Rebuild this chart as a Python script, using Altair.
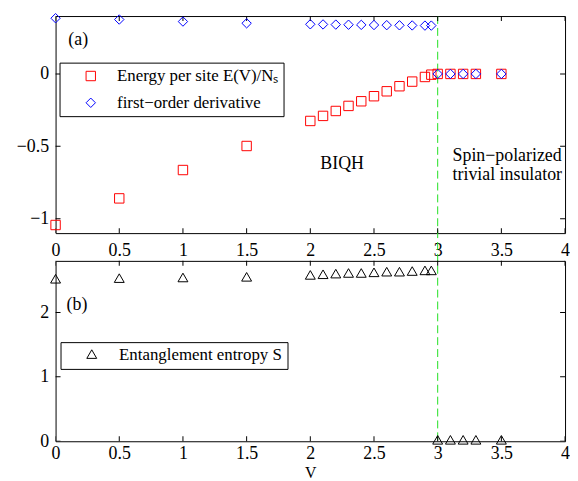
import altair as alt
import pandas as pd

# ---------------- data ----------------
V = [0, 0.5, 1, 1.5, 2.0, 2.1, 2.2, 2.3, 2.4, 2.5, 2.6, 2.7, 2.8, 2.9, 2.95,
     3.0, 3.1, 3.2, 3.3, 3.5]
energy = [-1.044, -0.86, -0.664, -0.498, -0.325, -0.29, -0.256, -0.221, -0.189,
          -0.154, -0.12, -0.085, -0.053, -0.021, -0.005, 0, 0, 0, 0, 0]
deriv = [0.385, 0.376, 0.362, 0.35, 0.343, 0.342, 0.341, 0.34, 0.339, 0.338,
         0.337, 0.336, 0.335, 0.334, 0.334, 0, 0, 0, 0, 0]
entropy = [2.50, 2.51, 2.52, 2.53, 2.56, 2.57, 2.58, 2.59, 2.59, 2.60, 2.61,
           2.61, 2.62, 2.63, 2.63, 0, 0, 0, 0, 0]

x_ticks = [0, 0.5, 1, 1.5, 2, 2.5, 3, 3.5, 4]
ya_ticks = [-1, -0.5, 0]
yb_ticks = [0, 1, 2]
x_domain = [0, 4]
ya_domain = [-1.1, 0.4]
yb_domain = [0, 2.8]
transition_V = [3.0]

E_LABEL = "Energy per site E(V)/N\u209b\u00a0"
D_LABEL = "first\u2212order derivative"
S_LABEL = "Entanglement entropy S\u00a0"

ann_a_x = [0.1]
ann_a_y = [0.235]
ann_a_t = ["(a)"]
ann_c_x = [2.25]
ann_c_y = [-0.622]
ann_c_t = ["BIQH"]
ann_r_x = [3.117, 3.117]
ann_r_y = [-0.567, -0.698]
ann_r_t = ["Spin\u2212polarized", "trivial insulator"]
ann_b_x = [0.086]
ann_b_y = [2.11]
ann_b_t = ["(b)"]

FONT = "Liberation Serif"
W, HA, HB, GAP = 514, 219, 182, 28

xs = alt.Scale(domain=x_domain, nice=False, zero=False)
ysa = alt.Scale(domain=ya_domain, nice=False, zero=False)
ysb = alt.Scale(domain=yb_domain, nice=False, zero=False)

ax_xa = alt.Axis(values=x_ticks, format="~g", title=None, labelPadding=9)
ax_ya = alt.Axis(values=ya_ticks, format="~g", title=None, labelPadding=7)
ax_xb = alt.Axis(values=x_ticks, format="~g", title="V", labelPadding=3,
                 titleY=24, titleFontSize=16)
ax_yb = alt.Axis(values=yb_ticks, format="~g", title=None, labelPadding=7)


def inward_ticks(xt, yt, xdom, ydom, xscale, yscale, xax, yax):
    dx = pd.DataFrame({"t": xt})
    dy = pd.DataFrame({"t": yt})
    layers = []
    for edge in ydom:
        layers.append(
            alt.Chart(dx).mark_tick(orient="vertical", size=10, thickness=1,
                                    color="black", clip=True, opacity=1)
            .encode(x=alt.X("t:Q", scale=xscale, axis=xax),
                    y=alt.YDatum(edge, type="quantitative", scale=yscale, axis=yax)))
    for edge in xdom:
        layers.append(
            alt.Chart(dy).mark_tick(orient="horizontal", size=10, thickness=1,
                                    color="black", clip=True, opacity=1)
            .encode(y=alt.Y("t:Q", scale=yscale, axis=yax),
                    x=alt.XDatum(edge, type="quantitative", scale=xscale, axis=xax)))
    return layers


def text_layer(xv, yv, tv, yscale, xax, yax, align="left"):
    d = pd.DataFrame({"x": xv, "y": yv, "t": tv})
    return alt.Chart(d).mark_text(font=FONT, fontSize=18, color="black",
                                  align=align, baseline="middle").encode(
        x=alt.X("x:Q", scale=xs, axis=xax),
        y=alt.Y("y:Q", scale=yscale, axis=yax),
        text="t:N")


# ---------------- panel (a) ----------------
df_a = pd.DataFrame({
    "V": V + V,
    "val": energy + deriv,
    "series": [E_LABEL] * len(V) + [D_LABEL] * len(V),
})

legend_a = alt.Legend(title=None, orient="none", legendX=4, legendY=47,
                      padding=5, rowPadding=9, strokeColor="black", fillColor="white",
                      cornerRadius=0, labelFont=FONT, labelFontSize=17,
                      labelColor="black", symbolSize=90, symbolStrokeWidth=1,
                      symbolOffset=18, labelOffset=18, labelLimit=400)

rule = alt.Chart(pd.DataFrame({"V": transition_V})).mark_rule(
    color="#22e022", strokeDash=[8, 4], strokeWidth=1).encode(
    x=alt.X("V:Q", scale=xs, axis=ax_xa),
    y=alt.value(0), y2=alt.value(HA + GAP + HB))

pts_a = alt.Chart(df_a).mark_point(filled=False, size=90, strokeWidth=1, opacity=1).encode(
    x=alt.X("V:Q", scale=xs, axis=ax_xa),
    y=alt.Y("val:Q", scale=ysa, axis=ax_ya),
    color=alt.Color("series:N", scale=alt.Scale(domain=[E_LABEL, D_LABEL],
                                                range=["#ff0000", "#0000ff"]),
                    legend=legend_a),
    shape=alt.Shape("series:N", scale=alt.Scale(domain=[E_LABEL, D_LABEL],
                                                range=["square", "diamond"]),
                    legend=legend_a),
)

ta1 = text_layer(ann_a_x, ann_a_y, ann_a_t, ysa, ax_xa, ax_ya, "left")
ta2 = text_layer(ann_c_x, ann_c_y, ann_c_t, ysa, ax_xa, ax_ya, "center")
ta3 = text_layer(ann_r_x, ann_r_y, ann_r_t, ysa, ax_xa, ax_ya, "left")

top = alt.layer(rule, *inward_ticks(x_ticks, ya_ticks, x_domain, ya_domain, xs, ysa,
                                    ax_xa, ax_ya),
                pts_a, ta1, ta2, ta3).properties(width=W, height=HA)

# ---------------- panel (b) ----------------
df_b = pd.DataFrame({"V": V, "S": entropy, "series": [S_LABEL] * len(V)})

legend_b = alt.Legend(title=None, orient="none", legendX=5, legendY=82,
                      padding=5, strokeColor="black", fillColor="white",
                      cornerRadius=0, labelFont=FONT, labelFontSize=17,
                      labelColor="black", symbolSize=100, symbolStrokeWidth=1,
                      symbolOffset=18, labelOffset=19, labelLimit=400)

pts_b = alt.Chart(df_b).mark_point(filled=False, size=100, strokeWidth=1, opacity=1).encode(
    x=alt.X("V:Q", scale=xs, axis=ax_xb),
    y=alt.Y("S:Q", scale=ysb, axis=ax_yb),
    color=alt.Color("series:N", scale=alt.Scale(domain=[S_LABEL], range=["black"]),
                    legend=legend_b),
    shape=alt.Shape("series:N", scale=alt.Scale(domain=[S_LABEL], range=["triangle"]),
                    legend=legend_b),
)

tb = text_layer(ann_b_x, ann_b_y, ann_b_t, ysb, ax_xb, ax_yb, "left")

bottom = alt.layer(*inward_ticks(x_ticks, yb_ticks, x_domain, yb_domain, xs, ysb,
                                 ax_xb, ax_yb),
                   pts_b, tb).properties(width=W, height=HB)

chart = alt.vconcat(top, bottom, spacing=GAP, bounds="flush").resolve_scale(
    x="independent", y="independent", color="independent", shape="independent"
).resolve_legend(color="independent", shape="independent").configure(
    padding={"left": 7, "top": 0, "right": 0, "bottom": 0},
    background="white",
).configure_view(stroke="black", strokeWidth=1).configure_axis(
    labelFont=FONT, labelFontSize=18, labelColor="black",
    titleFont=FONT, titleFontSize=18, titleFontWeight="normal", titleColor="black",
    domain=False, ticks=False, tickSize=0, grid=False, labelFlush=False,
)

chart.save("out.html", embed_options={"renderer": "svg", "actions": False})
